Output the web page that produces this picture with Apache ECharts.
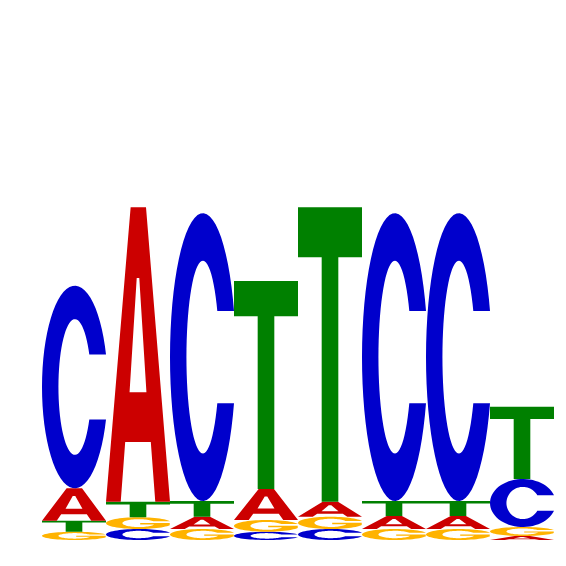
<!DOCTYPE html>
<html>
<head>
<meta charset="utf-8">
<script src="https://cdn.jsdelivr.net/npm/echarts@6/dist/echarts.min.js"></script>
<style>
html, body { margin: 0; padding: 0; background: #fff; }
#main { width: 566px; height: 566px; }
</style>
</head>
<body>
<div id="main"></div>
<script>
// motif positions and letter heights (bits)
var positions = [1, 2, 3, 4, 5, 6, 7, 8];
var bitsA = [0.130, 1.178, 0.049, 0.124, 0.060, 0.052, 0.052, 0.016];
var bitsC = [0.810, 0.044, 1.151, 0.033, 0.044, 1.151, 1.151, 0.192];
var bitsG = [0.033, 0.047, 0.044, 0.047, 0.049, 0.044, 0.044, 0.036];
var bitsT = [0.044, 0.062, 0.063, 0.832, 1.178, 0.060, 0.060, 0.289];
var letters = ['A', 'C', 'G', 'T'];
var letterColors = ['#CC0000', '#0000CC', '#FFB300', '#008000'];

// glyph outlines in a 100x100 box, stretched into each cell
function ringPath(isG) {
    var pts = [], n = 60, i, t;
    var t0 = -Math.asin(0.32);
    var t1 = isG ? -2 * Math.PI + 0.35 : -2 * Math.PI + Math.asin(0.32);
    for (i = 0; i <= n; i++) {
        t = t0 + (t1 - t0) * i / n;
        pts.push([50 + 50 * Math.cos(t), 50 + 50 * Math.sin(t)]);
    }
    var ti0 = Math.asin(16 / 33.5);
    if (isG) {
        pts.push([97, 50], [52, 50], [52, 62]);
        ti0 = Math.asin(12 / 33.5);
    }
    var ti1 = 2 * Math.PI - Math.asin(16 / 33.5);
    for (i = 0; i <= n; i++) {
        t = ti0 + (ti1 - ti0) * i / n;
        pts.push([50 + 25 * Math.cos(t), 50 + 33.5 * Math.sin(t)]);
    }
    return 'M' + pts.map(function (p) {
        return p[0].toFixed(2) + ',' + p[1].toFixed(2);
    }).join('L') + 'Z';
}

var glyphPaths = [
    'M0,100L38.5,0L62.5,0L100,100L77,100L70,79.7L30,79.7L23,100Z' +
        'M36.8,62.8L63.2,62.8L52,24L48,24Z',
    ringPath(false),
    ringPath(true),
    'M0,0L100,0L100,17L63,17L63,100L37,100L37,17L0,17Z'
];

// stack letters per position, smallest at the bottom
var stacks = [];
positions.forEach(function (pos, i) {
    var col = [bitsA[i], bitsC[i], bitsG[i], bitsT[i]].map(function (v, k) {
        return {k: k, v: v};
    });
    col.sort(function (a, b) { return a.v - b.v; });
    var base = 0;
    col.forEach(function (c) {
        stacks.push([pos, base, base + c.v, c.k]);
        base += c.v;
    });
});

var chart = echarts.init(document.getElementById('main'), null, {renderer: 'canvas'});
chart.setOption({
    animation: false,
    backgroundColor: '#ffffff',
    grid: {left: 42, right: 12, top: 40, bottom: 26},
    xAxis: {type: 'value', min: 0, max: 8, show: false},
    yAxis: {type: 'value', min: 0, max: 2, show: false},
    series: [{
        type: 'custom',
        data: stacks,
        encode: {x: 0, y: [1, 2]},
        renderItem: function (params, api) {
            var pos = api.value(0), lo = api.value(1), hi = api.value(2), k = api.value(3);
            var p0 = api.coord([pos - 1, lo]);
            var p1 = api.coord([pos, hi]);
            return {
                type: 'path',
                shape: {
                    pathData: glyphPaths[k],
                    x: p0[0],
                    y: p1[1],
                    width: p1[0] - p0[0],
                    height: p0[1] - p1[1],
                    layout: 'cover'
                },
                style: {fill: letterColors[k]}
            };
        }
    }]
});
</script>
</body>
</html>
